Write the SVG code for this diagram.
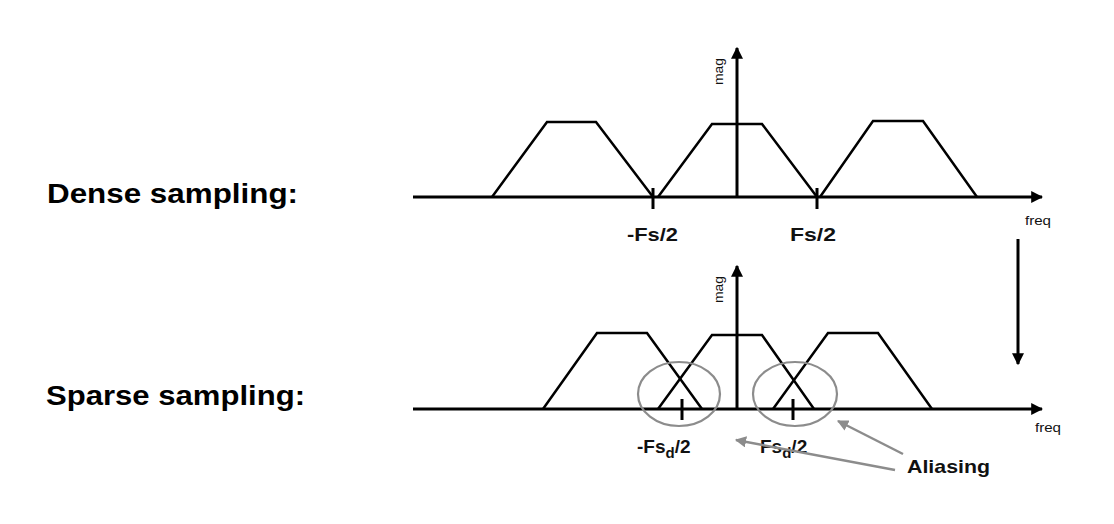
<svg xmlns="http://www.w3.org/2000/svg" width="1114" height="524" viewBox="0 0 1114 524">
<defs>
<style>
.axis{stroke:#000;stroke-width:3;fill:none}
.spec{stroke:#000;stroke-width:2.5;fill:none;stroke-linejoin:miter}
.tick{stroke:#000;stroke-width:3}
.circ{stroke:#8c8c8c;stroke-width:2.2;fill:none}
.garrow{stroke:#8c8c8c;stroke-width:2.5;fill:none}
.big{font-family:"Liberation Sans",Arial,sans-serif;font-weight:bold;font-size:28px;fill:#000}
.lab{font-family:"Liberation Sans",Arial,sans-serif;font-weight:bold;font-size:19px;fill:#111}
.small{font-family:"Liberation Sans",Arial,sans-serif;font-size:12.5px;fill:#111}
</style>
<marker id="ah" viewBox="0 0 10 10" refX="9" refY="5" markerWidth="4" markerHeight="4" orient="auto" markerUnits="strokeWidth">
<path d="M0,0 L10,5 L0,10 Z" fill="#000"/>
</marker>
<marker id="gah" viewBox="0 0 10 10" refX="9" refY="5" markerWidth="4.5" markerHeight="4.5" orient="auto" markerUnits="strokeWidth">
<path d="M0,0 L10,5 L0,10 Z" fill="#8c8c8c"/>
</marker>
</defs>
<rect width="1114" height="524" fill="#fff"/>

<g id="label-dense">
<text class="big" x="47" y="203" textLength="251" lengthAdjust="spacingAndGlyphs">Dense sampling:</text>
</g>
<g id="label-sparse">
<text class="big" x="46" y="405" textLength="259" lengthAdjust="spacingAndGlyphs">Sparse sampling:</text>
</g>

<g id="dense-plot">
<line class="axis" x1="413" y1="197" x2="1042" y2="197" marker-end="url(#ah)"/>
<line class="axis" x1="737" y1="197" x2="737" y2="48" marker-end="url(#ah)"/>
<polyline class="spec" points="492,197 547,122 596,122 653,197"/>
<polyline class="spec" points="658,197 712,124 762,124 817,197"/>
<polyline class="spec" points="820,197 873,121 923,121 977,197"/>
<line class="tick" x1="653" y1="188" x2="653" y2="209"/>
<line class="tick" x1="817" y1="188" x2="817" y2="209"/>
<text class="small" transform="translate(723,85) rotate(-90)" textLength="27" lengthAdjust="spacingAndGlyphs">mag</text>
<text class="small" x="1025" y="225" textLength="26" lengthAdjust="spacingAndGlyphs">freq</text>
<text class="lab" x="627" y="241" textLength="51" lengthAdjust="spacingAndGlyphs">-Fs/2</text>
<text class="lab" x="790" y="241" textLength="46" lengthAdjust="spacingAndGlyphs">Fs/2</text>
</g>

<g id="sparse-plot">
<line class="axis" x1="413" y1="409" x2="1042" y2="409" marker-end="url(#ah)"/>
<line class="axis" x1="737" y1="409" x2="737" y2="266" marker-end="url(#ah)"/>
<polyline class="spec" points="543,409 597,333 647,333 702,409"/>
<polyline class="spec" points="658,409 712,335 762,335 814,409"/>
<polyline class="spec" points="773,409 828,333 878,333 932,409"/>
<line class="tick" x1="682" y1="399" x2="682" y2="420"/>
<line class="tick" x1="793" y1="399" x2="793" y2="420"/>
<text class="small" transform="translate(723,303) rotate(-90)" textLength="27" lengthAdjust="spacingAndGlyphs">mag</text>
<text class="small" x="1035" y="432" textLength="26" lengthAdjust="spacingAndGlyphs">freq</text>
<text class="lab" x="637" y="453" font-size="21">-Fs<tspan font-size="15" dy="5">d</tspan><tspan dy="-5">/2</tspan></text>
<text class="lab" x="760" y="453" font-size="21">Fs<tspan font-size="15" dy="5">d</tspan><tspan dy="-5">/2</tspan></text>
<ellipse id="alias-left" class="circ" cx="679" cy="394" rx="41" ry="32"/>
<ellipse id="alias-right" class="circ" cx="795" cy="394" rx="42" ry="32"/>
</g>

<g id="label-aliasing">
<text class="lab" x="907" y="473" font-size="20" textLength="83" lengthAdjust="spacingAndGlyphs">Aliasing</text>
</g>

<g id="connectors">
<line class="axis" x1="1018" y1="239" x2="1018" y2="364" stroke-width="2.5" marker-end="url(#ah)"/>
<line class="garrow" x1="903" y1="454" x2="838" y2="421" marker-end="url(#gah)"/>
<line class="garrow" x1="895" y1="470" x2="736" y2="440" marker-end="url(#gah)"/>
</g>
</svg>
